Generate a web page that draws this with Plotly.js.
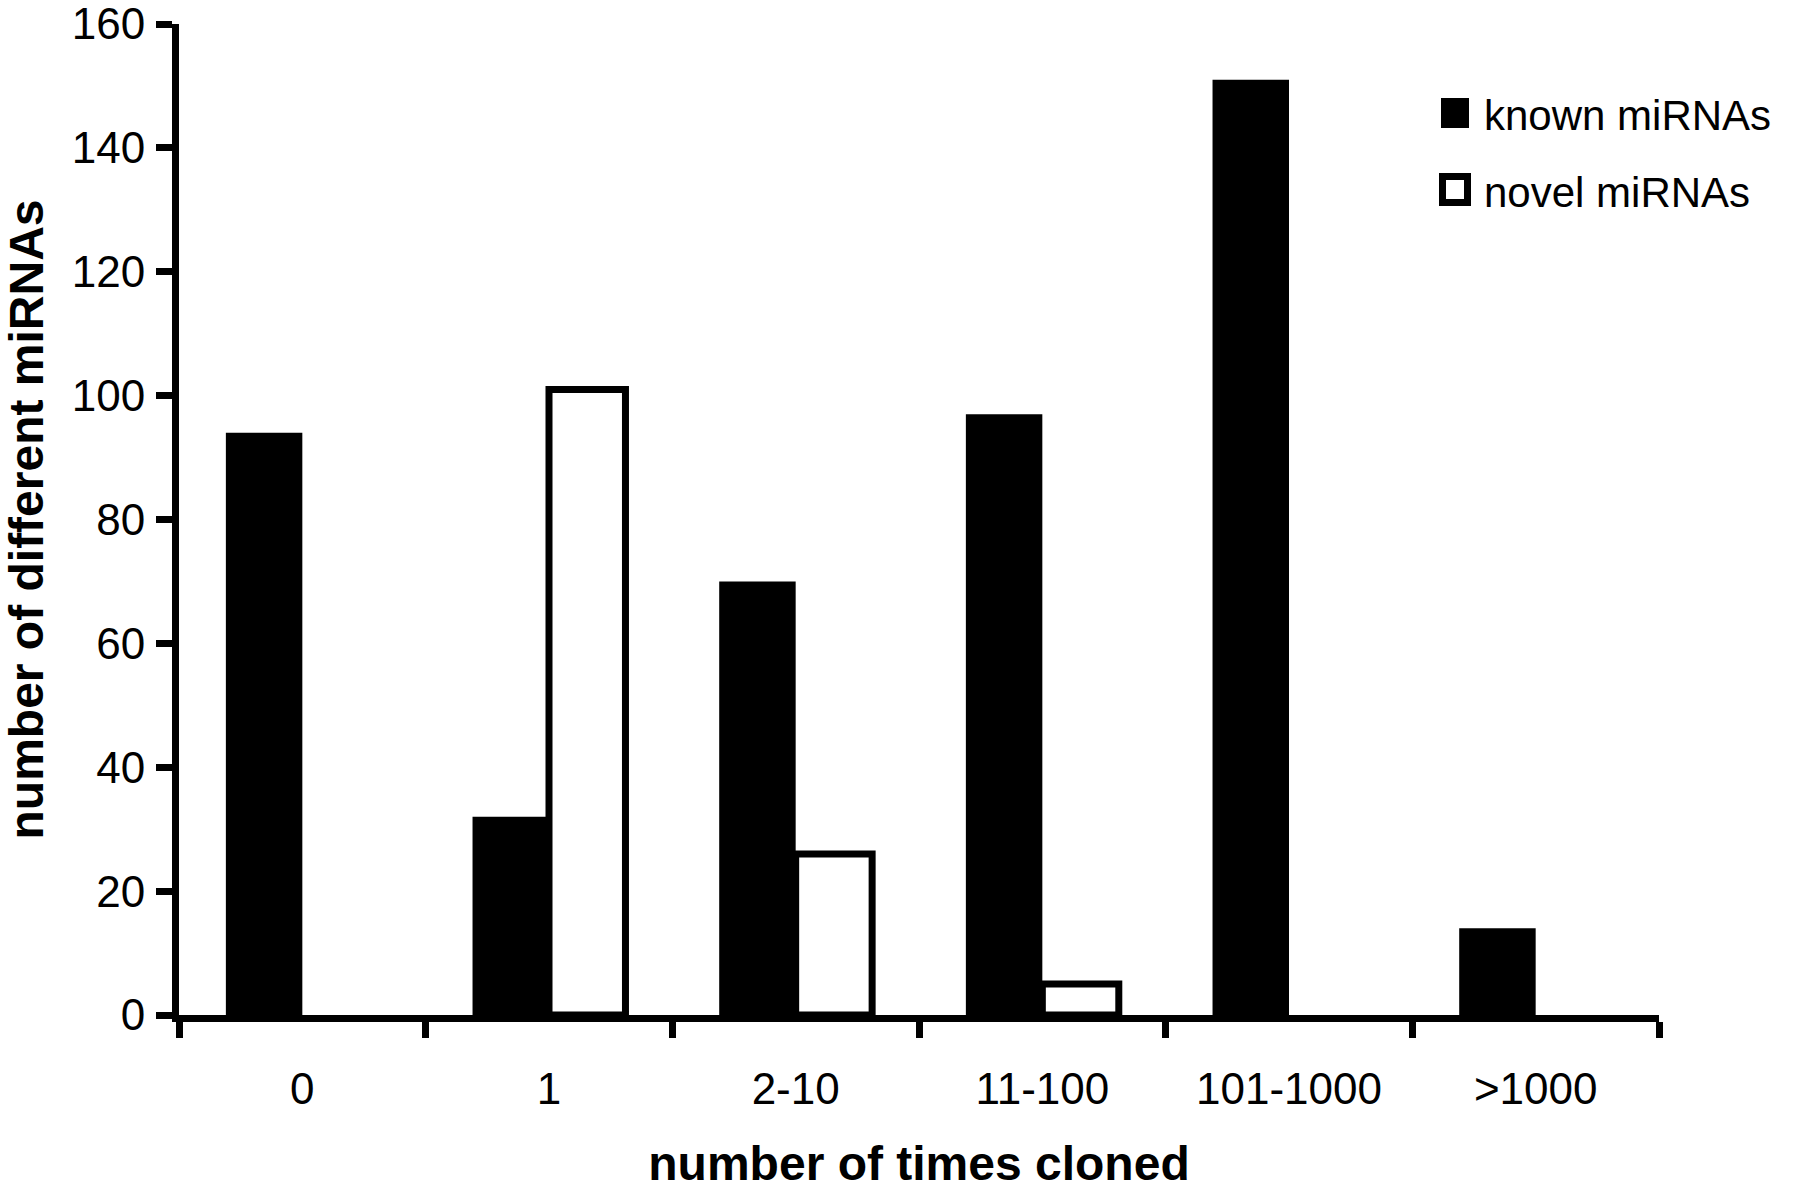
<!DOCTYPE html>
<html>
<head>
<meta charset="utf-8">
<script src="https://cdn.plot.ly/plotly-3.0.1.min.js"></script>
<style>
  html, body { margin: 0; padding: 0; background: #fff; }
  #chart { width: 1800px; height: 1190px; }
</style>
</head>
<body>
<div id="chart"></div>
<script>
// ---- data ----
var categories = ["0", "1", "2-10", "11-100", "101-1000", ">1000"];
var knownMiRNAs = [94, 32, 70, 97, 151, 14];
var novelMiRNAs = [0, 101, 26, 5, 0, 0];
var seriesNames = ["known miRNAs", "novel miRNAs"];
var yTickVals = [0, 20, 40, 60, 80, 100, 120, 140, 160];

// ---- layout geometry (pixels) ----
var W = 1800, H = 1190;
var M = { l: 179, r: 141, t: 24, b: 175 };
var plotW = W - M.l - M.r, plotH = H - M.t - M.b;
function px(x) { return (x - M.l) / plotW; }
function py(y) { return (H - M.b - y) / plotH; }

var FONT = "Liberation Sans, Arial, Helvetica, sans-serif";

var traces = [
  {
    type: "bar",
    name: seriesNames[0],
    x: categories,
    y: knownMiRNAs,
    marker: { color: "#000000", line: { width: 0 } },
    hoverinfo: "x+y+name"
  },
  {
    type: "bar",
    name: seriesNames[1],
    x: categories,
    y: novelMiRNAs.map(function (v) { return v === 0 ? null : v; }),
    marker: { color: "#ffffff", line: { color: "#000000", width: 7 } },
    hoverinfo: "x+y+name"
  }
];

var layout = {
  width: W,
  height: H,
  margin: M,
  paper_bgcolor: "#ffffff",
  plot_bgcolor: "#ffffff",
  barmode: "group",
  bargap: 0.38,
  bargroupgap: 0,
  showlegend: false,
  font: { family: FONT, color: "#000000" },
  xaxis: {
    type: "category",
    range: [-0.5, 5.5],
    tickson: "boundaries",
    ticks: "outside",
    ticklen: 16,
    tickwidth: 7,
    tickcolor: "#000000",
    showline: true,
    linewidth: 7,
    linecolor: "#000000",
    showgrid: false,
    zeroline: false,
    ticklabelstandoff: 29,
    tickfont: { family: FONT, size: 44, color: "#000000" },
    title: {
      text: "number of times cloned",
      font: { family: FONT, size: 48, color: "#000000", weight: "bold" },
      standoff: 60
    },
    automargin: false,
    fixedrange: true
  },
  yaxis: {
    range: [0, 160],
    tickmode: "array",
    tickvals: yTickVals,
    ticktext: yTickVals.map(String),
    ticks: "outside",
    ticklen: 16,
    tickwidth: 7,
    tickcolor: "#000000",
    showline: true,
    linewidth: 7,
    linecolor: "#000000",
    showgrid: false,
    zeroline: false,
    ticklabelstandoff: 2,
    ticklabeloverflow: "allow",
    tickfont: { family: FONT, size: 44, color: "#000000" },
    title: {
      text: "number of different miRNAs",
      font: { family: FONT, size: 48, color: "#000000", weight: "bold" },
      standoff: 27
    },
    automargin: false,
    fixedrange: true
  },
  shapes: [
    { type: "rect", xref: "paper", yref: "paper",
      x0: px(1441), x1: px(1469), y0: py(98), y1: py(128),
      fillcolor: "#000000", line: { width: 0 } },
    { type: "rect", xref: "paper", yref: "paper",
      x0: px(1442.5), x1: px(1467.5), y0: py(176.5), y1: py(202.5),
      fillcolor: "#ffffff", line: { color: "#000000", width: 7 } }
  ],
  annotations: [
    { xref: "paper", yref: "paper", x: px(1482), y: py(116),
      xanchor: "left", yanchor: "middle", showarrow: false,
      text: seriesNames[0], font: { family: FONT, size: 42, color: "#000000" } },
    { xref: "paper", yref: "paper", x: px(1482), y: py(192),
      xanchor: "left", yanchor: "middle", showarrow: false,
      text: seriesNames[1], font: { family: FONT, size: 42, color: "#000000" } }
  ]
};

Plotly.newPlot("chart", traces, layout, { displayModeBar: false, staticPlot: true });
</script>
</body>
</html>
